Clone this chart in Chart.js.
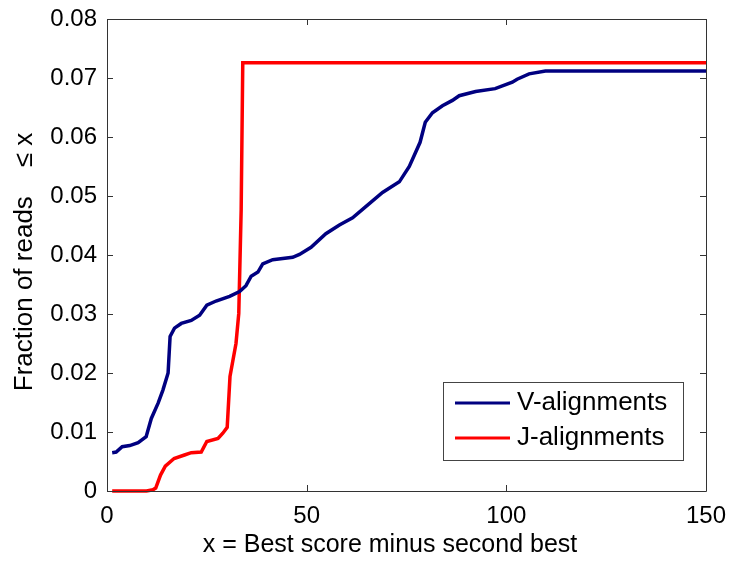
<!DOCTYPE html>
<html>
<head>
<meta charset="utf-8">
<script src="https://cdn.jsdelivr.net/npm/chart.js@4/dist/chart.umd.min.js"></script>
<style>
  html, body { margin: 0; padding: 0; background: #fff; }
  #wrap { width: 729px; height: 561px; position: relative; }
</style>
</head>
<body>
<div id="wrap"><canvas id="c" width="729" height="561"></canvas></div>
<script>
// Score gap x (best minus second best) and cumulative fraction of reads <= x
const vX = [1.3, 2.3, 3.8, 5.7, 7.8, 9.8, 11.1, 12.8, 14.0, 15.3, 15.8, 16.9, 18.6, 21.1, 23.2, 25.0, 27.3, 30.7, 33.2, 34.8, 36.1, 37.8, 39.0, 41.5, 46.5, 48.2, 51.1, 54.8, 58.2, 61.5, 64.8, 69.0, 73.2, 75.7, 78.4, 79.7, 81.5, 84.0, 86.5, 88.2, 92.3, 97.2, 101.5, 102.7, 105.7, 109.8, 150];
const vY = [0.0065, 0.0066, 0.0075, 0.0077, 0.0082, 0.0092, 0.0123, 0.0149, 0.0171, 0.0200, 0.0262, 0.0276, 0.0284, 0.0289, 0.0298, 0.0315, 0.0322, 0.0330, 0.0338, 0.0348, 0.0364, 0.0371, 0.0385, 0.0392, 0.0396, 0.0401, 0.0413, 0.0436, 0.0451, 0.0463, 0.0482, 0.0506, 0.0524, 0.0550, 0.0591, 0.0625, 0.0641, 0.0653, 0.0662, 0.0670, 0.0677, 0.0682, 0.0693, 0.0698, 0.0707, 0.0712, 0.0712];
const jX = [1.3, 9.9, 11.5, 12.2, 13.4, 14.6, 16.8, 19.4, 21.1, 23.6, 25.0, 27.8, 29.0, 30.1, 30.8, 32.3, 33.0, 33.6, 34.0, 150];
const jY = [0, 0, 0.0002, 0.0005, 0.0027, 0.0042, 0.0055, 0.0061, 0.0065, 0.0066, 0.0084, 0.0089, 0.0098, 0.0108, 0.0194, 0.0250, 0.0301, 0.0477, 0.0726, 0.0726];

const xTicks = [0, 50, 100, 150];
const yTicks = [0, 0.01, 0.02, 0.03, 0.04, 0.05, 0.06, 0.07, 0.08];
const seriesNames = ['V-alignments', 'J-alignments'];
const seriesColors = ['#000080', '#ff0000'];
const xTitle = 'x = Best score minus second best';
const yTitle = 'Fraction of reads    \u2264 x';

const FONT = "'Liberation Sans', Arial, sans-serif";
const toPts = (xs, ys) => xs.map((x, i) => ({ x: x, y: ys[i] }));

// Box frame, inward ticks on all four sides, axis titles and the legend
const framePlugin = {
  id: 'frame',
  afterDatasetsDraw(chart) {
    const { ctx, chartArea: a, scales } = chart;
    const xs = scales.x, ys = scales.y;
    const tl = 6;
    ctx.save();
    ctx.strokeStyle = '#333';
    ctx.lineWidth = 1;
    ctx.beginPath();
    ctx.rect(Math.round(a.left) + 0.5, Math.round(a.top) + 0.5,
             Math.round(a.right - a.left), Math.round(a.bottom - a.top));
    ctx.stroke();
    ctx.beginPath();
    xTicks.forEach(v => {
      const px = Math.round(xs.getPixelForValue(v)) + 0.5;
      ctx.moveTo(px, a.bottom); ctx.lineTo(px, a.bottom - tl);
      ctx.moveTo(px, a.top); ctx.lineTo(px, a.top + tl);
    });
    yTicks.forEach(v => {
      const py = Math.round(ys.getPixelForValue(v)) + 0.5;
      ctx.moveTo(a.left, py); ctx.lineTo(a.left + tl, py);
      ctx.moveTo(a.right, py); ctx.lineTo(a.right - tl, py);
    });
    ctx.stroke();

    // axis titles
    ctx.fillStyle = '#000';
    ctx.font = '25px ' + FONT;
    ctx.textAlign = 'center';
    ctx.textBaseline = 'middle';
    ctx.fillText(xTitle, 390, 545);
    ctx.save();
    ctx.translate(25, 262);
    ctx.rotate(-Math.PI / 2);
    ctx.font = '26px ' + FONT;
    ctx.fillText(yTitle, 0, 0);
    ctx.restore();

    // legend
    const lx = 443, ly = 382, lw = 240, lh = 78;
    ctx.fillStyle = '#fff';
    ctx.fillRect(lx, ly, lw, lh);
    ctx.strokeStyle = '#444';
    ctx.lineWidth = 1;
    ctx.strokeRect(lx + 0.5, ly + 0.5, lw, lh);
    ctx.textAlign = 'left';
    ctx.font = '26px ' + FONT;
    chart.data.datasets.forEach((ds, i) => {
      const ry = ly + 21 + i * 35;
      ctx.strokeStyle = ds.borderColor;
      ctx.lineWidth = 3;
      ctx.beginPath();
      ctx.moveTo(lx + 12, ry); ctx.lineTo(lx + 67, ry);
      ctx.stroke();
      ctx.fillStyle = '#000';
      ctx.fillText(ds.label, lx + 74, ry);
    });
    ctx.restore();
  }
};

new Chart(document.getElementById('c'), {
  type: 'scatter',
  data: {
    datasets: [
      { label: seriesNames[0], data: toPts(vX, vY), borderColor: seriesColors[0],
        backgroundColor: seriesColors[0], showLine: true, borderWidth: 3.5,
        pointRadius: 0, tension: 0, clip: 3 },
      { label: seriesNames[1], data: toPts(jX, jY), borderColor: seriesColors[1],
        backgroundColor: seriesColors[1], showLine: true, borderWidth: 3.5,
        pointRadius: 0, tension: 0, clip: 3 }
    ]
  },
  options: {
    responsive: false,
    animation: false,
    devicePixelRatio: 1,
    layout: { padding: { top: 19, right: 23, left: 0, bottom: 0 } },
    plugins: { legend: { display: false }, tooltip: { enabled: false } },
    scales: {
      x: {
        type: 'linear', min: 0, max: 150,
        grid: { display: false }, border: { display: false },
        afterBuildTicks: s => { s.ticks = xTicks.map(v => ({ value: v })); },
        afterFit: s => { s.height = 70; s.paddingLeft = 0; s.paddingRight = 0; },
        ticks: { color: '#000', font: { family: FONT, size: 24 }, padding: 3, maxRotation: 0,
                 callback: v => String(v) }
      },
      y: {
        type: 'linear', min: 0, max: 0.08,
        grid: { display: false }, border: { display: false },
        afterBuildTicks: s => { s.ticks = yTicks.map(v => ({ value: v })); },
        afterFit: s => { s.width = 107; s.paddingTop = 0; s.paddingBottom = 0; },
        ticks: { color: '#000', font: { family: FONT, size: 24 }, padding: 2,
                 callback: v => (v === 0 ? '0' : v.toFixed(2)) }
      }
    }
  },
  plugins: [framePlugin]
});
</script>
</body>
</html>
